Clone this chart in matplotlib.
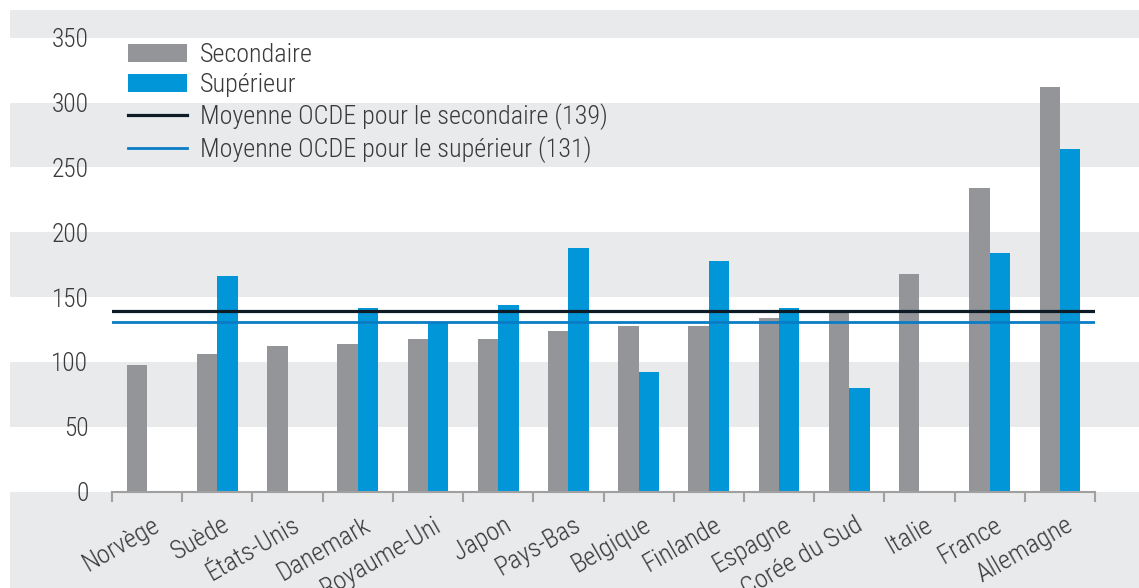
import matplotlib
matplotlib.use('Agg')
import matplotlib.pyplot as plt
from matplotlib import font_manager as fm
from matplotlib.patches import Rectangle, Patch
from matplotlib.lines import Line2D
import matplotlib.transforms as mtransforms
import numpy as np

countries = ["Norvège", "Suède", "États-Unis", "Danemark", "Royaume-Uni", "Japon",
             "Pays-Bas", "Belgique", "Finlande", "Espagne", "Corée du Sud", "Italie",
             "France", "Allemagne"]
secondaire = [98, 106, 112, 114, 118, 118, 124, 128, 128, 134, 139, 168, 234, 312]
superieur = [np.nan, 166, np.nan, 142, 130, 144, 188, 92, 178, 142, 80, np.nan, 184, 264]
moyenne_secondaire = 139
moyenne_superieur = 131
yticks = [0, 50, 100, 150, 200, 250, 300, 350]
legend_labels = ["Secondaire", "Supérieur",
                 "Moyenne OCDE pour le secondaire (139)",
                 "Moyenne OCDE pour le supérieur (131)"]

available = {f.name for f in fm.fontManager.ttflist}
family = 'DejaVu Sans'
for cand in ['Roboto Condensed', 'IBM Plex Sans Condensed', 'Liberation Sans Narrow']:
    if cand in available:
        family = cand
        break
plt.rcParams['font.family'] = [family, 'DejaVu Sans']
plt.rcParams['font.weight'] = 'light'

W, H = 1139, 588
GRAY_BG = '#e9eaeb'
BAR_GRAY = '#939598'
BAR_BLUE = '#0096d7'
LINE_DARK = '#0d1b26'
LINE_BLUE = '#0a7cc4'
TXT = '#3a3a3a'
AXIS = '#a0a0a0'
FS = 18.8

fig = plt.figure(figsize=(W / 100, H / 100), dpi=100)
fig.patch.set_facecolor('white')
fig.patches.append(Rectangle((10 / W, 0), 1 - 10 / W, (H - 10) / H,
                             transform=fig.transFigure, facecolor=GRAY_BG,
                             edgecolor='none', zorder=-10))

ax = fig.add_axes([112 / W, (H - 491.7) / H, (1095 - 112) / W, 454 / H])
ax.set_facecolor('none')
ax.set_xlim(0, len(countries))
ax.set_ylim(0, 350)

blend = mtransforms.blended_transform_factory(fig.transFigure, ax.transData)
for lo in [0, 100, 200, 300]:
    fig.patches.append(Rectangle((10 / W, lo), 1 - 10 / W, 50, transform=blend,
                                 facecolor='white', edgecolor='none', zorder=-5))

x = np.arange(len(countries)) + 0.5
bw = 0.29
ax.bar(x - bw, secondaire, width=bw, align='edge', color=BAR_GRAY, zorder=2)
ax.bar(x, superieur, width=bw, align='edge', color=BAR_BLUE, zorder=2)
ax.axhline(moyenne_secondaire, color=LINE_DARK, lw=2.3, zorder=3)
ax.axhline(moyenne_superieur, color=LINE_BLUE, lw=2.0, zorder=3)

for s in ['left', 'top', 'right']:
    ax.spines[s].set_visible(False)
ax.spines['bottom'].set_color(AXIS)
ax.spines['bottom'].set_linewidth(1.5)

ax.set_xticks(np.arange(len(countries) + 1))
ax.set_xticklabels([])
ax.tick_params(axis='x', which='major', length=7, width=1.5, color=AXIS, direction='out')
ax.set_xticks(x, minor=True)
ax.set_xticklabels(countries, minor=True, rotation=30, ha='right',
                   rotation_mode='anchor', fontsize=FS, color=TXT)
ax.tick_params(axis='x', which='minor', length=0, pad=15)
offset = mtransforms.ScaledTranslation(5 / 100, 0, fig.dpi_scale_trans)
for lab in ax.get_xticklabels(minor=True):
    lab.set_transform(lab.get_transform() + offset)

ax.set_yticks(yticks)
ax.set_yticklabels([str(v) for v in yticks], fontsize=18.3, color=TXT)
ax.tick_params(axis='y', length=0, pad=17)

handles = [Patch(facecolor=BAR_GRAY), Patch(facecolor=BAR_BLUE),
           Line2D([], [], color=LINE_DARK, lw=2.3), Line2D([], [], color=LINE_BLUE, lw=2.0)]
leg = ax.legend(handles, legend_labels, loc='upper left',
                bbox_to_anchor=(128 / W, (H - 43) / H), bbox_transform=fig.transFigure,
                frameon=False, fontsize=FS, handlelength=2.27, handleheight=0.69,
                handletextpad=0.5, labelspacing=0.24, borderpad=0, borderaxespad=0)
for t in leg.get_texts():
    t.set_color(TXT)

fig.savefig('out.png', dpi=100, facecolor='white')
